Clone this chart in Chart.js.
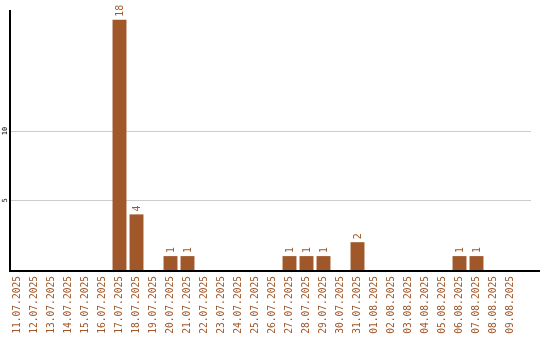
<!DOCTYPE html>
<html>
<head>
<meta charset="utf-8">
<script src="https://cdn.jsdelivr.net/npm/chart.js@4/dist/chart.umd.min.js"></script>
<style>
  html, body { margin: 0; padding: 0; background: #fff; }
  #wrap { width: 540px; height: 340px; position: relative; }
</style>
</head>
<body>
<div id="wrap"><canvas id="c" width="540" height="340"></canvas></div>
<script>
const categories = ["11.07.2025","12.07.2025","13.07.2025","14.07.2025","15.07.2025","16.07.2025","17.07.2025","18.07.2025","19.07.2025","20.07.2025","21.07.2025","22.07.2025","23.07.2025","24.07.2025","25.07.2025","26.07.2025","27.07.2025","28.07.2025","29.07.2025","30.07.2025","31.07.2025","01.08.2025","02.08.2025","03.08.2025","04.08.2025","05.08.2025","06.08.2025","07.08.2025","08.08.2025","09.08.2025"];
const counts = [0,0,0,0,0,0,18,4,0,1,1,0,0,0,0,0,1,1,1,0,2,0,0,0,0,0,1,1,0,0];
const yTickValues = [5, 10];

const BAR = '#a0582a';
const MONO = '"DejaVu Sans Mono", "Liberation Mono", monospace';

const decor = {
  id: 'decor',
  beforeDatasetsDraw(chart) {
    const ctx = chart.ctx, y = chart.scales.y, a = chart.chartArea;
    ctx.save();
    ctx.strokeStyle = '#cccccc';
    ctx.lineWidth = 1;
    yTickValues.forEach(v => {
      const py = Math.round(y.getPixelForValue(v)) + 0.5;
      ctx.beginPath(); ctx.moveTo(a.left, py); ctx.lineTo(531, py); ctx.stroke();
    });
    ctx.restore();
  },
  afterDatasetsDraw(chart) {
    const ctx = chart.ctx, y = chart.scales.y, a = chart.chartArea;
    ctx.save();
    ctx.strokeStyle = '#000';
    ctx.lineWidth = 2;
    ctx.beginPath(); ctx.moveTo(a.left + 1, a.top); ctx.lineTo(a.left + 1, a.bottom + 1); ctx.stroke();
    ctx.beginPath(); ctx.moveTo(a.left, a.bottom + 1); ctx.lineTo(540, a.bottom + 1); ctx.stroke();
    ctx.fillStyle = '#000';
    ctx.font = '7px ' + MONO;
    ctx.textAlign = 'center';
    ctx.textBaseline = 'middle';
    yTickValues.forEach(v => {
      const py = y.getPixelForValue(v);
      ctx.save(); ctx.translate(5, py); ctx.rotate(-Math.PI / 2);
      ctx.fillText(String(v), 0, 0); ctx.restore();
    });
    const meta = chart.getDatasetMeta(0);
    ctx.fillStyle = BAR;
    ctx.font = '10px ' + MONO;
    ctx.textAlign = 'left';
    ctx.textBaseline = 'middle';
    meta.data.forEach((bar, i) => {
      const v = counts[i];
      if (!v) return;
      ctx.save(); ctx.translate(bar.x + 0.5, bar.y - 3); ctx.rotate(-Math.PI / 2);
      ctx.fillText(String(v), 0, 0); ctx.restore();
    });
    ctx.restore();
  }
};

new Chart(document.getElementById('c'), {
  type: 'bar',
  data: {
    labels: categories,
    datasets: [{ data: counts, backgroundColor: BAR, borderWidth: 0, barPercentage: 0.82, categoryPercentage: 1 }]
  },
  options: {
    responsive: false,
    animation: false,
    devicePixelRatio: 1,
    layout: { padding: { left: 0, right: 21, top: 10, bottom: 0 } },
    plugins: { legend: { display: false }, tooltip: { enabled: false } },
    scales: {
      x: {
        grid: { display: false, drawTicks: false },
        border: { display: false },
        ticks: {
          autoSkip: false, maxRotation: 90, minRotation: 90, padding: 6,
          color: BAR, font: { family: MONO, size: 9.6 }
        },
        afterFit(s) { s.height = 70; }
      },
      y: {
        min: 0, max: 18.7,
        grid: { display: false, drawTicks: false },
        border: { display: false },
        ticks: { display: false },
        afterFit(s) { s.width = 9; }
      }
    }
  },
  plugins: [decor]
});
</script>
</body>
</html>
